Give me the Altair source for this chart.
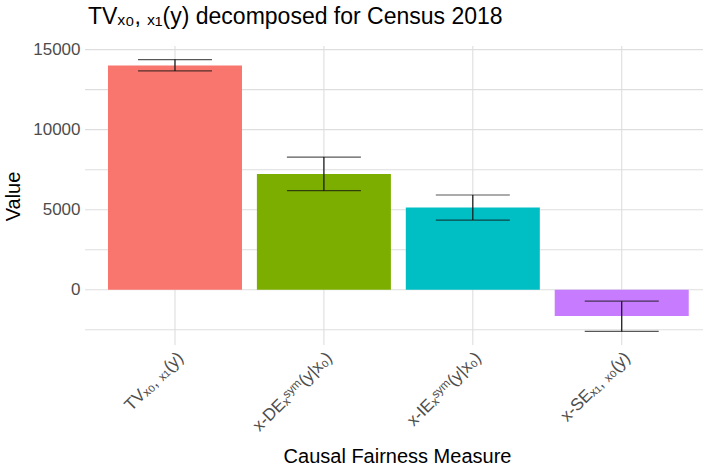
import altair as alt
import pandas as pd

# Decomposition of the total variation (TV) for Census 2018
measures = ["TVₓ₀, ₓ₁(y)", "x-DEₓˢʸᵐ(y|x₀)", "x-IEₓˢʸᵐ(y|x₀)", "x-SEₓ₁, ₓ₀(y)"]
values = [14000, 7230, 5140, -1630]
lower = [13670, 6190, 4350, -2600]
upper = [14375, 8290, 5920, -710]
colors = ["#F8766D", "#7CAE00", "#00BFC4", "#C77CFF"]
y_breaks = [-2500, 0, 2500, 5000, 7500, 10000, 12500, 15000]

df = pd.DataFrame({"Measure": measures, "Value": values, "lo": lower, "hi": upper})
grid_df = pd.DataFrame({"b": y_breaks})

# y range padded by 5% on both sides, as in ggplot
ymin = min(min(lower), 0)
ymax = max(max(upper), 0)
span = ymax - ymin
ydom = [ymin - 0.05 * span, ymax + 0.05 * span]

FONT = "Liberation Sans"
W, H = 618, 299
GRID = "#dedede"

x_scale = alt.Scale(paddingInner=0.1, paddingOuter=0.125, align=0.617)
y_scale = alt.Scale(domain=ydom, nice=False, zero=False)

x_enc = alt.X(
    "Measure:N",
    sort=measures,
    scale=x_scale,
    axis=alt.Axis(
        title="Causal Fairness Measure",
        labelAngle=-45,
        labelAlign="right",
        labelBaseline="top",
        labelPadding=4,
        labelFontSize=17,
        labelColor="#4d4d4d",
        labelFont=FONT,
        titleFont=FONT,
        titleFontSize=20,
        titleFontWeight="normal",
        titleColor="#000000",
        titleX=312,
        titleY=117,
        titleAlign="center",
        titleBaseline="alphabetic",
        bandPosition=0.5,
        grid=False,
        ticks=False,
        domain=False,
    ),
)

y_axis = alt.Axis(
    title="Value",
    values=y_breaks,
    labelExpr="datum.value % 5000 == 0 ? format(datum.value, 'd') : ''",
    labelFontSize=17,
    labelColor="#4d4d4d",
    labelFont=FONT,
    labelPadding=5,
    titleFont=FONT,
    titleFontSize=20,
    titleFontWeight="normal",
    titleColor="#000000",
    titleX=-62,
    titleY=150,
    grid=False,
    ticks=False,
    domain=False,
)

base = alt.Chart(df)

# panel grid: horizontal lines at every break, vertical lines at each category
hgrid = alt.Chart(grid_df).mark_rule(color=GRID, strokeWidth=1.1).encode(
    y=alt.Y("b:Q", scale=y_scale, axis=y_axis),
    x=alt.value(0),
    x2=alt.value(W),
)
vgrid = base.mark_rule(color=GRID, strokeWidth=1.1).encode(
    x=x_enc,
    y=alt.value(0),
    y2=alt.value(H),
)

bars = base.mark_bar().encode(
    x=alt.X("Measure:N", sort=measures),
    y=alt.Y("Value:Q", scale=y_scale),
    y2=alt.datum(0),
    color=alt.Color("Measure:N", sort=measures,
                    scale=alt.Scale(domain=measures, range=colors), legend=None),
)

whisker = base.mark_rule(color="#111111", strokeWidth=1.2).encode(
    x=alt.X("Measure:N", sort=measures),
    y=alt.Y("lo:Q", scale=y_scale),
    y2="hi:Q",
)

cap_lo = base.mark_tick(color="#111111", thickness=1.2, size=74, orient="horizontal").encode(
    x=alt.X("Measure:N", sort=measures),
    y=alt.Y("lo:Q", scale=y_scale),
)
cap_hi = base.mark_tick(color="#111111", thickness=1.2, size=74, orient="horizontal").encode(
    x=alt.X("Measure:N", sort=measures),
    y=alt.Y("hi:Q", scale=y_scale),
)

chart = (
    alt.layer(hgrid, vgrid, bars, whisker, cap_lo, cap_hi)
    .properties(
        width=W,
        height=H,
        title=alt.TitleParams(
            "TVₓ₀, ₓ₁(y) decomposed for Census 2018",
            anchor="start",
            frame="group",
            font=FONT,
            fontSize=23,
            fontWeight="normal",
            color="#000000",
            baseline="alphabetic",
            offset=4,
            dx=3,
            dy=10,
        ),
        autosize=alt.AutoSizeParams(type="none"),
        padding={"left": 85, "top": 46, "right": 1, "bottom": 124},
    )
    .configure(background="white")
    .configure_view(strokeWidth=0, stroke="transparent")
)

chart.save("out.html", embed_options={"renderer": "svg", "actions": False})
